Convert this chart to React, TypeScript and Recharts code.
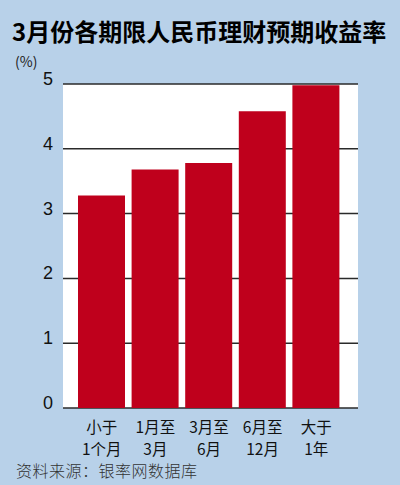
import React from 'react';
import { BarChart, Bar, XAxis, YAxis, CartesianGrid } from 'recharts';

const titleText = '3月份各期限人民币理财预期收益率';
const unitText = '(%)';
const sourceText = '资料来源：银率网数据库';
const labelLine1 = ['小于', '1月至', '3月至', '6月至', '大于'];
const labelLine2 = ['1个月', '3月', '6月', '12月', '1年'];
const yields = [3.28, 3.68, 3.78, 4.58, 4.98];
const yTicks = [0, 1, 2, 3, 4, 5];

const data = yields.map((v, i) => ({ key: String(i), value: v }));

const BG = '#b8d1e9';
const RED = '#bf001c';

const XTick = (props: any) => {
  const { x, y, payload } = props;
  const i = Number(payload.value);
  return (
    <g>
      <text x={x} y={y} dy={17} textAnchor="middle" fontSize={15.5} fill="#111" fontFamily="'Noto Sans CJK SC', sans-serif">
        {labelLine1[i]}
      </text>
      <text x={x} y={y} dy={39} textAnchor="middle" fontSize={15.5} fill="#111" fontFamily="'Noto Sans CJK SC', sans-serif">
        {labelLine2[i]}
      </text>
    </g>
  );
};

const YTick = (props: any) => {
  const { y, payload } = props;
  return (
    <text x={53} y={y} dy={1} textAnchor="end" fontSize={18} fill="#111" fontFamily="'Liberation Sans', Arial, sans-serif">
      {payload.value}
    </text>
  );
};

export default function App() {
  return (
    <div style={{ position: 'absolute', left: 0, top: 0, width: 400, height: 485, background: BG, overflow: 'hidden' }}>
      <div style={{ position: 'absolute', left: 12, top: 19, fontSize: 24, lineHeight: '24px', fontWeight: 700, color: '#000', fontFamily: "'Noto Sans CJK SC', sans-serif", whiteSpace: 'nowrap' }}>
        {titleText}
      </div>
      <div style={{ position: 'absolute', left: 15, top: 54, fontSize: 14, lineHeight: '14px', color: '#222', fontFamily: "'Noto Sans CJK SC', sans-serif" }}>
        {unitText}
      </div>
      <div style={{ position: 'absolute', left: 16, top: 462, fontSize: 16, lineHeight: '16px', letterSpacing: 0.5, color: '#333', fontFamily: "'Noto Sans CJK SC', sans-serif", fontWeight: 300, whiteSpace: 'nowrap' }}>
        {sourceText}
      </div>
      <div style={{ position: 'absolute', left: 0, top: 0 }}>
        <BarChart width={400} height={485} data={data} margin={{ top: 84, right: 42, bottom: 17, left: 0 }}>
          <CartesianGrid vertical={false} fill="#ffffff" stroke="#2a2a2a" strokeWidth={1.5} />
          <XAxis dataKey="key" axisLine={false} tickLine={false} tick={<XTick />} height={60} padding={{ left: 12, right: 15 }} interval={0} />
          <YAxis domain={[0, 5]} ticks={yTicks} axisLine={false} tickLine={false} tick={<YTick />} width={63} />
          <Bar dataKey="value" fill={RED} barSize={47} isAnimationActive={false} />
        </BarChart>
      </div>
    </div>
  );
}
